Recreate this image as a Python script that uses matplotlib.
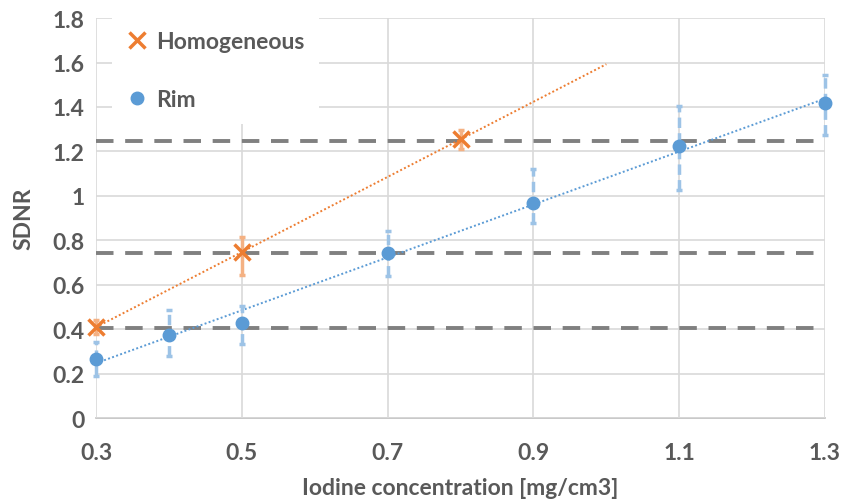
import numpy as np
import matplotlib
matplotlib.use("Agg")
import matplotlib.pyplot as plt
from matplotlib.ticker import FuncFormatter

# Data
homo_x = [0.3, 0.5, 0.8]
homo_y = [0.41, 0.745, 1.255]
homo_err_lo = [0.03, 0.10, 0.045]
homo_err_hi = [0.03, 0.07, 0.04]

rim_x = [0.3, 0.4, 0.5, 0.7, 0.9, 1.1, 1.3]
rim_y = [0.265, 0.375, 0.427, 0.742, 0.969, 1.224, 1.416]
rim_err_lo = [0.075, 0.095, 0.095, 0.105, 0.09, 0.20, 0.14]
rim_err_hi = [0.075, 0.11, 0.075, 0.10, 0.15, 0.18, 0.13]

threshold_levels = [1.245, 0.742, 0.405]
homo_trend_end = 1.0

plt.rcParams['font.family'] = ['Lato', 'DejaVu Sans']

fig = plt.figure(figsize=(8.41, 5.02), dpi=100)
ax = fig.add_axes([0.1142, 0.1653, 0.981 - 0.1142, 0.962 - 0.1653])

orange = '#ED7D31'
orange_l = '#F4B183'
blue = '#5B9BD5'
blue_l = '#9DC3E6'
grey_txt = '#595959'
FS = 16.5

# grid
ax.set_xlim(0.3, 1.3)
ax.set_ylim(0, 1.8)
ax.set_xticks([0.3, 0.5, 0.7, 0.9, 1.1, 1.3])
ax.set_yticks(np.arange(0, 1.81, 0.2))
ax.grid(True, color='#D9D9D9', linewidth=1.2, zorder=0)
for s in ax.spines.values():
    s.set_visible(False)
ax.plot([0.3, 1.3], [0, 0], color='#BFBFBF', lw=1.2, clip_on=False, zorder=1)

# threshold dashed lines
for lv in threshold_levels:
    ax.plot([0.3, 1.3], [lv, lv], color='#808080', lw=2.8, dashes=(4.5, 3), zorder=2, clip_on=False)

# trendlines
p_h = np.polyfit(homo_x, homo_y, 1)
xh = np.array([0.3, homo_trend_end])
ax.plot(xh, np.polyval(p_h, xh), color=orange, lw=1.4, linestyle=(0, (1, 1.2)), zorder=3)
p_r = np.polyfit(rim_x, rim_y, 1)
xr = np.array([0.3, 1.3])
ax.plot(xr, np.polyval(p_r, xr), color=blue, lw=1.4, linestyle=(0, (1, 1.2)), zorder=3)

# error bars
eb = ax.errorbar(rim_x, rim_y, yerr=[rim_err_lo, rim_err_hi], fmt='none', ecolor=blue_l,
                 elinewidth=2.5, capsize=2.5, capthick=2.5, zorder=4, clip_on=False)
eb[2][0].set_linestyle((0, (3, 1.5)))
ax.errorbar(homo_x, homo_y, yerr=[homo_err_lo, homo_err_hi], fmt='none', ecolor=orange_l,
            elinewidth=2.5, capsize=2.5, capthick=2.5, zorder=4, clip_on=False)

# markers
ax.plot(rim_x, rim_y, 'o', color=blue, ms=9, zorder=5, clip_on=False, label='Rim')
ax.plot(homo_x, homo_y, 'x', color=orange, ms=11, mew=2.5, zorder=6, clip_on=False, label='Homogeneous')

# ticks
fmt = FuncFormatter(lambda v, p: ('%g' % round(v, 2)))
ax.yaxis.set_major_formatter(fmt)
ax.xaxis.set_major_formatter(fmt)
ax.tick_params(length=0, labelsize=FS, labelcolor=grey_txt, pad=8)
ax.tick_params(axis='x', pad=17)
for lab in ax.get_xticklabels() + ax.get_yticklabels():
    lab.set_fontweight('bold')

ax.set_xlabel('Iodine concentration [mg/cm3]', fontsize=FS, fontweight='bold', color=grey_txt, labelpad=10)
ax.set_ylabel('SDNR', fontsize=FS, fontweight='bold', color=grey_txt, labelpad=13)

handles, labels = ax.get_legend_handles_labels()
leg = ax.legend(handles[::-1], labels[::-1], loc='upper left', bbox_to_anchor=(0.006, 1.03),
                frameon=True, fancybox=False, edgecolor='none', facecolor='white', framealpha=1,
                fontsize=FS, labelspacing=1.6, handlelength=1.0, handletextpad=0.35,
                borderpad=0.6)
for t in leg.get_texts():
    t.set_color(grey_txt)
    t.set_fontweight('bold')
leg.set_zorder(7)

fig.savefig('out.png', dpi=100)
